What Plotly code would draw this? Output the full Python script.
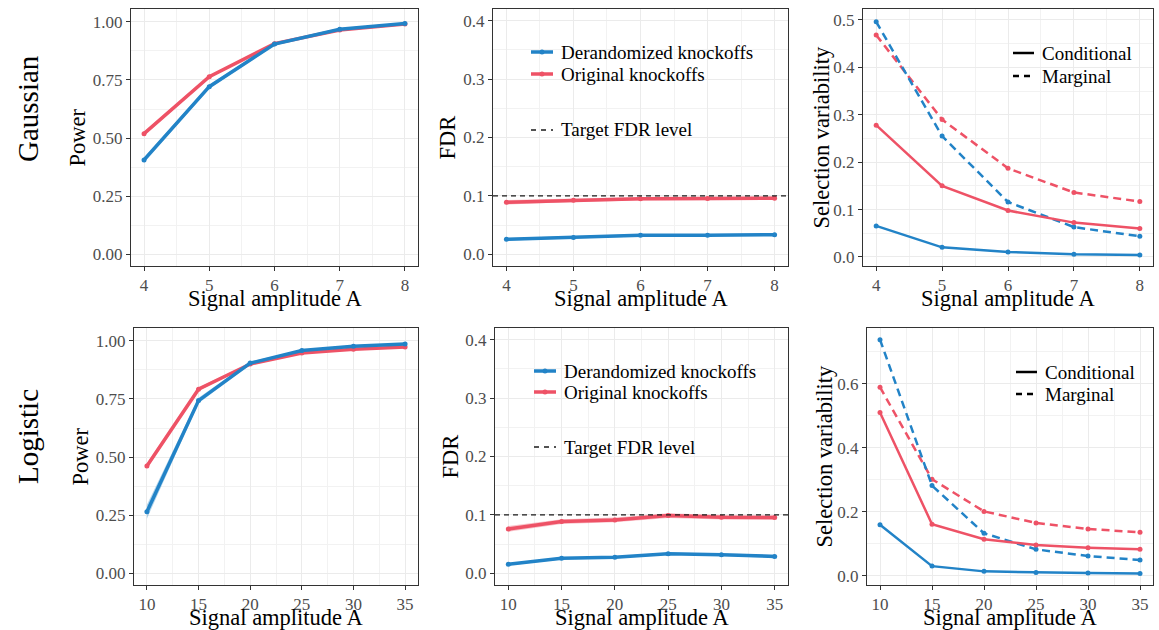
import plotly.graph_objects as go

W, H = 1159, 630

# ---------------- data ----------------
A_gauss = [4, 5, 6, 7, 8]
A_logit = [10, 15, 20, 25, 30, 35]

# Gaussian power
g_pow_der = [0.406, 0.721, 0.904, 0.968, 0.993]
g_pow_der_se = [0.012, 0.008, 0.005, 0.003, 0.002]
g_pow_org = [0.519, 0.764, 0.906, 0.965, 0.990]
g_pow_org_se = [0.008, 0.006, 0.004, 0.003, 0.002]

# Gaussian FDR
g_fdr_der = [0.0257, 0.0290, 0.0326, 0.0326, 0.0337]
g_fdr_der_se = [0.002, 0.002, 0.002, 0.002, 0.002]
g_fdr_org = [0.089, 0.0926, 0.095, 0.0954, 0.096]
g_fdr_org_se = [0.004, 0.003, 0.003, 0.003, 0.003]

# Gaussian selection variability
g_sv_der_cond = [0.0655, 0.0204, 0.0106, 0.0056, 0.0042]
g_sv_org_cond = [0.278, 0.150, 0.098, 0.0725, 0.060]
g_sv_der_marg = [0.496, 0.255, 0.116, 0.063, 0.0437]
g_sv_org_marg = [0.468, 0.290, 0.187, 0.136, 0.117]

# Logistic power
l_pow_der = [0.265, 0.743, 0.904, 0.958, 0.976, 0.986]
l_pow_der_se = [0.030, 0.012, 0.006, 0.004, 0.003, 0.003]
l_pow_org = [0.462, 0.792, 0.900, 0.947, 0.964, 0.973]
l_pow_org_se = [0.012, 0.008, 0.005, 0.004, 0.003, 0.003]

# Logistic FDR
l_fdr_der = [0.0154, 0.0257, 0.0274, 0.0337, 0.032, 0.029]
l_fdr_der_se = [0.002, 0.002, 0.002, 0.002, 0.002, 0.003]
l_fdr_org = [0.076, 0.0886, 0.0914, 0.0989, 0.096, 0.0954]
l_fdr_org_se = [0.005, 0.004, 0.004, 0.004, 0.004, 0.004]

# Logistic selection variability
l_sv_der_cond = [0.159, 0.030, 0.0136, 0.0104, 0.0083, 0.0073]
l_sv_org_cond = [0.510, 0.161, 0.114, 0.096, 0.0876, 0.0824]
l_sv_der_marg = [0.7376, 0.2817, 0.1325, 0.0824, 0.0616, 0.049]
l_sv_org_marg = [0.589, 0.3015, 0.201, 0.165, 0.146, 0.1356]

target_fdr = 0.1

row_labels = ["Gaussian", "Logistic"]
x_title = "Signal amplitude A"
y_titles = ["Power", "FDR", "Selection variability"]
legend_methods = ["Derandomized knockoffs", "Original knockoffs"]
legend_target = "Target FDR level"
legend_types = ["Conditional", "Marginal"]

# ---------------- style ----------------
BLUE = "#2283C7"
RED = "#EE5266"
BLUE_RIB = "rgba(34,131,199,0.35)"
RED_RIB = "rgba(238,82,102,0.35)"
FONT = "Liberation Serif"
GRID = "#EBEBEB"
GRID_MINOR = "#F2F2F2"
SV_DASH = "8px,5px"

def fx(px):
    return px / W

def fy(py):
    return 1 - py / H

# panel pixel boxes (left, right, top, bottom)
boxes = {
    1: (131, 418, 9, 266),
    2: (493, 788, 9, 266),
    3: (863, 1153, 9, 266),
    4: (134, 418, 328, 585),
    5: (495, 788, 328, 585),
    6: (867, 1153, 328, 585),
}

fig = go.Figure()

def ax_names(ax):
    s = "" if ax == 1 else str(ax)
    return "x" + s, "y" + s

def add_ribbon(ax, x, y, se, color):
    up = [a + b for a, b in zip(y, se)]
    lo = [a - b for a, b in zip(y, se)]
    xa, ya = ax_names(ax)
    fig.add_trace(go.Scatter(
        x=list(x) + list(x)[::-1], y=up + lo[::-1], fill="toself",
        fillcolor=color, line=dict(width=0), mode="lines",
        hoverinfo="skip", showlegend=False, xaxis=xa, yaxis=ya))

def add_line(ax, x, y, color, width=3.5, dash="solid", msize=5):
    xa, ya = ax_names(ax)
    fig.add_trace(go.Scatter(
        x=x, y=y, mode="lines+markers",
        line=dict(color=color, width=width, dash=dash),
        marker=dict(color=color, size=msize),
        showlegend=False, xaxis=xa, yaxis=ya))

# Panel 1: Gaussian power
add_ribbon(1, A_gauss, g_pow_org, g_pow_org_se, RED_RIB)
add_ribbon(1, A_gauss, g_pow_der, g_pow_der_se, BLUE_RIB)
add_line(1, A_gauss, g_pow_org, RED)
add_line(1, A_gauss, g_pow_der, BLUE)
# Panel 2: Gaussian FDR
add_ribbon(2, A_gauss, g_fdr_org, g_fdr_org_se, RED_RIB)
add_ribbon(2, A_gauss, g_fdr_der, g_fdr_der_se, BLUE_RIB)
add_line(2, A_gauss, g_fdr_org, RED)
add_line(2, A_gauss, g_fdr_der, BLUE)
# Panel 3: Gaussian SV
add_line(3, A_gauss, g_sv_org_marg, RED, 2.5, SV_DASH)
add_line(3, A_gauss, g_sv_der_marg, BLUE, 2.5, SV_DASH)
add_line(3, A_gauss, g_sv_org_cond, RED, 2.5)
add_line(3, A_gauss, g_sv_der_cond, BLUE, 2.5)
# Panel 4: Logistic power
add_ribbon(4, A_logit, l_pow_org, l_pow_org_se, RED_RIB)
add_ribbon(4, A_logit, l_pow_der, l_pow_der_se, BLUE_RIB)
add_line(4, A_logit, l_pow_org, RED)
add_line(4, A_logit, l_pow_der, BLUE)
# Panel 5: Logistic FDR
add_ribbon(5, A_logit, l_fdr_org, l_fdr_org_se, RED_RIB)
add_ribbon(5, A_logit, l_fdr_der, l_fdr_der_se, BLUE_RIB)
add_line(5, A_logit, l_fdr_org, RED)
add_line(5, A_logit, l_fdr_der, BLUE)
# Panel 6: Logistic SV
add_line(6, A_logit, l_sv_org_marg, RED, 2.5, SV_DASH)
add_line(6, A_logit, l_sv_der_marg, BLUE, 2.5, SV_DASH)
add_line(6, A_logit, l_sv_org_cond, RED, 2.5)
add_line(6, A_logit, l_sv_der_cond, BLUE, 2.5)

# ---------------- axes ----------------
TICKFONT = dict(family=FONT, size=17, color="#4D4D4D")

def common_axis():
    return dict(showgrid=True, gridcolor=GRID, gridwidth=1.2,
                showline=True, mirror=True, linecolor="#333333", linewidth=1,
                ticks="outside", ticklen=4, tickcolor="#333333", tickwidth=1,
                zeroline=False, tickfont=TICKFONT)

def xaxis_cfg(i, rng, ticks, minor):
    l, r, t, b = boxes[i]
    d = common_axis()
    d.update(domain=[fx(l), fx(r)], range=rng, tickmode="array", tickvals=ticks,
             anchor=ax_names(i)[1], ticklabelstandoff=0,
             minor=dict(tickvals=minor, showgrid=True, gridcolor=GRID_MINOR, gridwidth=0.7))
    return d

def yaxis_cfg(i, rng, ticks, labels, minor):
    l, r, t, b = boxes[i]
    d = common_axis()
    d.update(domain=[fy(b), fy(t)], range=rng, tickmode="array", tickvals=ticks, ticktext=labels,
             anchor=ax_names(i)[0],
             minor=dict(tickvals=minor, showgrid=True, gridcolor=GRID_MINOR, gridwidth=0.7))
    return d

gx = [4, 5, 6, 7, 8]
gxm = [4.5, 5.5, 6.5, 7.5]
lx = [10, 15, 20, 25, 30, 35]
lxm = [12.5, 17.5, 22.5, 27.5, 32.5]
pow_t = [0, 0.25, 0.5, 0.75, 1.0]
pow_l = ["0.00", "0.25", "0.50", "0.75", "1.00"]
pow_m = [0.125, 0.375, 0.625, 0.875]
fdr_t = [0, 0.1, 0.2, 0.3, 0.4]
fdr_l = ["0.0", "0.1", "0.2", "0.3", "0.4"]
fdr_m = [0.05, 0.15, 0.25, 0.35]
sv1_t = [0, 0.1, 0.2, 0.3, 0.4, 0.5]
sv1_l = ["0.0", "0.1", "0.2", "0.3", "0.4", "0.5"]
sv1_m = [0.05, 0.15, 0.25, 0.35, 0.45]
sv2_t = [0, 0.2, 0.4, 0.6]
sv2_l = ["0.0", "0.2", "0.4", "0.6"]
sv2_m = [0.1, 0.3, 0.5, 0.7]

layout = dict(
    width=W, height=H, margin=dict(l=0, r=0, t=0, b=0),
    plot_bgcolor="white", paper_bgcolor="white", showlegend=False,
    font=dict(family=FONT),
)
layout["xaxis"] = xaxis_cfg(1, [3.8, 8.2], gx, gxm)
layout["xaxis2"] = xaxis_cfg(2, [3.8, 8.2], gx, gxm)
layout["xaxis3"] = xaxis_cfg(3, [3.8, 8.2], gx, gxm)
layout["xaxis4"] = xaxis_cfg(4, [8.75, 36.25], lx, lxm)
layout["xaxis5"] = xaxis_cfg(5, [8.75, 36.25], lx, lxm)
layout["xaxis6"] = xaxis_cfg(6, [8.75, 36.25], lx, lxm)
layout["yaxis"] = yaxis_cfg(1, [-0.05, 1.055], pow_t, pow_l, pow_m)
layout["yaxis2"] = yaxis_cfg(2, [-0.02, 0.42], fdr_t, fdr_l, fdr_m)
layout["yaxis3"] = yaxis_cfg(3, [-0.019, 0.523], sv1_t, sv1_l, sv1_m)
layout["yaxis4"] = yaxis_cfg(4, [-0.05, 1.055], pow_t, pow_l, pow_m)
layout["yaxis5"] = yaxis_cfg(5, [-0.02, 0.42], fdr_t, fdr_l, fdr_m)
layout["yaxis6"] = yaxis_cfg(6, [-0.029, 0.774], sv2_t, sv2_l, sv2_m)
fig.update_layout(**layout)

shapes = []
annotations = []

# target FDR dashed line
for ax in (2, 5):
    shapes.append(dict(type="line", xref="x%d domain" % ax, yref="y%d" % ax,
                       x0=0, x1=1, y0=target_fdr, y1=target_fdr,
                       line=dict(color="#1a1a1a", width=1.2, dash="5px,4px"), layer="above"))

# axis titles
for i, (l, r, t, b) in boxes.items():
    annotations.append(dict(text=x_title, xref="paper", yref="paper",
                            x=fx((l + r) / 2), y=fy(b + 32), xanchor="center", yanchor="middle",
                            showarrow=False, font=dict(family=FONT, size=22.5, color="black")))
ytitle_x = {1: 77, 2: 447, 3: 821, 4: 80, 5: 450, 6: 824}
for i, (l, r, t, b) in boxes.items():
    annotations.append(dict(text=y_titles[(i - 1) % 3], xref="paper", yref="paper",
                            x=fx(ytitle_x[i]), y=fy((t + b) / 2), xanchor="center", yanchor="middle",
                            textangle=-90, showarrow=False,
                            font=dict(family=FONT, size=22.5, color="black")))

# row labels
annotations.append(dict(text=row_labels[0], xref="paper", yref="paper", x=fx(28), y=fy(109),
                        textangle=-90, showarrow=False, xanchor="center", yanchor="middle",
                        font=dict(family=FONT, size=29, color="black")))
annotations.append(dict(text=row_labels[1], xref="paper", yref="paper", x=fx(28), y=fy(437),
                        textangle=-90, showarrow=False, xanchor="center", yanchor="middle",
                        font=dict(family=FONT, size=29, color="black")))

# legend keys (decorations)
def key_box(x0, x1, y0, y1):
    shapes.append(dict(type="rect", xref="paper", yref="paper", x0=fx(x0), x1=fx(x1),
                       y0=fy(y1), y1=fy(y0), fillcolor="white", line=dict(width=0), layer="below"))

def key_line(x0, x1, yc, color, width, dash="solid", dot=False):
    shapes.append(dict(type="line", xref="paper", yref="paper", x0=fx(x0), x1=fx(x1),
                       y0=fy(yc), y1=fy(yc), line=dict(color=color, width=width, dash=dash)))
    if dot:
        shapes.append(dict(type="circle", xref="paper", yref="paper",
                           x0=fx((x0 + x1) / 2 - 2.5), x1=fx((x0 + x1) / 2 + 2.5),
                           y0=fy(yc + 2.5), y1=fy(yc - 2.5), fillcolor=color, line=dict(width=0)))

def key_text(x, yc, text):
    annotations.append(dict(text=text, xref="paper", yref="paper", x=fx(x), y=fy(yc),
                            xanchor="left", yanchor="middle", showarrow=False,
                            font=dict(family=FONT, size=19, color="black")))

# FDR legends
for (kx0, kx1, tx, y1, y2, y3) in [(531, 553, 559, 52, 74, 130), (534, 556, 562, 371, 392, 447)]:
    key_box(kx0 - 1, kx1 + 1, y1 - 11, y2 + 11)
    key_box(kx0 - 1, kx1 + 1, y3 - 12, y3 + 12)
    key_line(kx0, kx1, y1, BLUE, 3.5, dot=True)
    key_line(kx0, kx1, y2, RED, 3.5, dot=True)
    key_line(kx0, kx1, y3, "#1a1a1a", 1.3, dash="5px,5px")
    key_text(tx, y1, legend_methods[0])
    key_text(tx, y2, legend_methods[1])
    key_text(tx, y3, legend_target)

# SV legends
for (kx0, kx1, tx, y1, y2) in [(1013, 1034, 1040, 53, 76), (1016, 1037, 1043, 372, 394)]:
    key_box(kx0 - 1, kx1 + 1, y1 - 12, y2 + 12)
    key_line(kx0, kx1, y1, "black", 2.5)
    key_line(kx0, kx1, y2, "black", 2.5, dash="6px,5px")
    key_text(tx, y1, legend_types[0])
    key_text(tx, y2, legend_types[1])

fig.update_layout(shapes=shapes, annotations=annotations)
fig.write_html("out.html", config={"displayModeBar": False},
               post_script="document.body.style.margin='0px';document.body.style.padding='0px';")
